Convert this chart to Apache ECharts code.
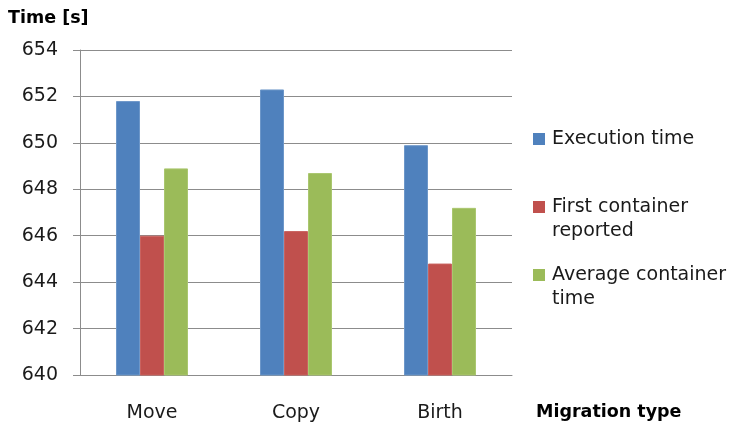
<!DOCTYPE html>
<html>
<head>
<meta charset="utf-8">
<script src="https://cdn.jsdelivr.net/npm/echarts@6/dist/echarts.min.js"></script>
<style>
  html, body { margin: 0; padding: 0; background: #ffffff; }
  #chart { width: 731px; height: 423px; }
</style>
</head>
<body>
<div id="chart"></div>
<script>
// Migration types on the category axis
const categories = ['Move', 'Copy', 'Birth'];

// Times in seconds for each migration type
const executionTime = [651.8, 652.3, 649.9];
const firstContainerReported = [646.0, 646.2, 644.8];
const averageContainerTime = [648.9, 648.7, 647.2];

// Value axis range and step
const yMin = 640;
const yMax = 654;
const yStep = 2;

const seriesNames = ['Execution time', 'First container reported', 'Average container time'];
const legendLabels = {
  'Execution time': 'Execution time\n ',
  'First container reported': 'First container\nreported',
  'Average container time': 'Average container\ntime'
};

const FONT = 'DejaVu Sans';
const TEXT = '#1a1a1a';
const GRID = '#8c8c8c';

// Legend swatch sits beside the first line of a two-line label;
// the zero-area strokes only stretch the icon box to the full label height.
const swatch = 'path://M0,0L12,0ZM0,6H12V18H0ZM0,48L12,48Z';

function barSeries(name, data, color, edge) {
  return {
    name: name,
    type: 'bar',
    data: data,
    barGap: '0%',
    barCategoryGap: '50%',
    itemStyle: { color: color, borderColor: edge, borderWidth: 1 }
  };
}

const chart = echarts.init(document.getElementById('chart'), null, { renderer: 'canvas' });

chart.setOption({
  backgroundColor: '#ffffff',
  animation: false,
  textStyle: { fontFamily: FONT, color: TEXT },
  grid: { left: 80, right: 219, top: 50, bottom: 48, containLabel: false },
  xAxis: {
    type: 'category',
    data: categories,
    axisLine: { lineStyle: { color: GRID, width: 1 } },
    axisTick: { show: false },
    axisLabel: { margin: 29, fontSize: 19, color: TEXT, fontFamily: FONT }
  },
  yAxis: {
    type: 'value',
    min: yMin,
    max: yMax,
    interval: yStep,
    axisLine: { show: true, lineStyle: { color: GRID, width: 1 } },
    axisTick: { show: true, inside: false, length: 7, lineStyle: { color: GRID } },
    axisLabel: { margin: 22, fontSize: 19, color: TEXT, fontFamily: FONT },
    splitLine: { show: true, lineStyle: { color: GRID, width: 1 } }
  },
  legend: {
    orient: 'vertical',
    left: 533,
    top: 127,
    padding: 0,
    itemWidth: 12,
    itemHeight: 48,
    itemGap: 20,
    icon: swatch,
    itemStyle: { borderWidth: 0 },
    data: seriesNames,
    formatter: function (name) { return legendLabels[name]; },
    textStyle: { fontFamily: FONT, fontSize: 19, color: TEXT, lineHeight: 24, padding: [0, 0, 0, 2] }
  },
  graphic: [
    {
      type: 'text',
      left: 8,
      top: 9,
      style: { text: 'Time [s]', font: 'bold 17.5px "DejaVu Sans"', fill: '#000000' }
    },
    {
      type: 'text',
      left: 536,
      top: 403,
      style: { text: 'Migration type', font: 'bold 17.5px "DejaVu Sans"', fill: '#000000' }
    }
  ],
  series: [
    barSeries(seriesNames[0], executionTime, '#4F81BD', '#6d97c9'),
    barSeries(seriesNames[1], firstContainerReported, '#C0504D', '#c9625f'),
    barSeries(seriesNames[2], averageContainerTime, '#9BBB59', '#aac76f')
  ]
});
</script>
</body>
</html>
